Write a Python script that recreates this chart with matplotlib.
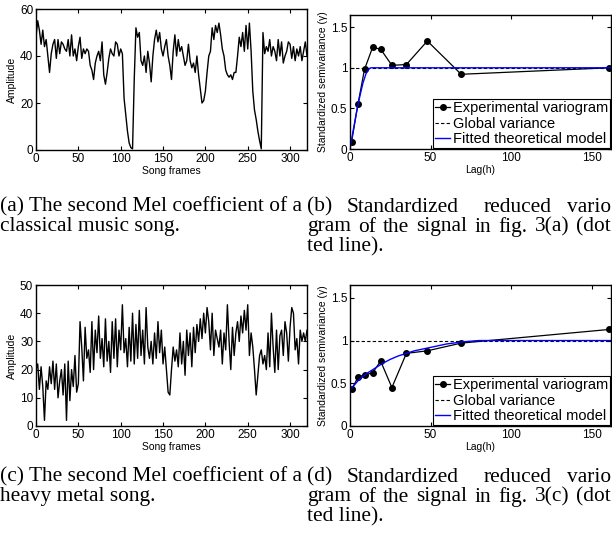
import numpy as np
import matplotlib.pyplot as plt

# Datos (un valor cada 2 frames)
paso_frames = 2
mel_clasica = [48, 55, 51, 45, 51, 44, 47, 40, 33, 41,
               45, 47, 39, 47, 41, 46, 45, 43, 42, 47,
               40, 49, 40, 43, 38, 44, 48, 39, 43, 41,
               43, 42, 36, 34, 30, 37, 40, 42, 38, 46,
               32, 28, 33, 39, 43, 41, 40, 46, 45, 40,
               43, 41, 22, 15, 8, 3, 1, 0.5, 30, 52,
               48, 50, 38, 36, 40, 33, 42, 37, 29, 40,
               47, 51, 46, 50, 43, 40, 44, 47, 40, 36,
               30, 42, 49, 40, 47, 42, 44, 40, 36, 38,
               45, 38, 35, 37, 33, 40, 32, 26, 20, 21,
               25, 33, 40, 42, 52, 47, 53, 50, 54, 49,
               43, 40, 34, 32, 31, 32, 30, 33, 33, 40,
               48, 44, 50, 42, 53, 43, 54, 42, 25, 17,
               13, 8, 4, 0.5, 50, 41, 44, 42, 47, 40,
               44, 42, 38, 47, 40, 46, 37, 40, 42, 46,
               45, 39, 44, 38, 43, 40, 44, 38, 42, 46,
               40]

mel_metal = [20, 22, 13, 21, 14, 2, 16, 13, 21, 15,
             23, 13, 22, 10, 16, 20, 11, 22, 2, 23,
             9, 20, 14, 25, 12, 15, 37, 28, 16, 35,
             24, 27, 19, 37, 20, 34, 26, 39, 24, 31,
             21, 38, 23, 30, 19, 37, 24, 38, 21, 34,
             27, 43, 26, 31, 21, 35, 23, 40, 22, 36,
             24, 41, 25, 34, 22, 42, 28, 24, 30, 22,
             33, 24, 37, 26, 34, 22, 28, 20, 12, 11,
             20, 28, 23, 27, 21, 33, 22, 30, 18, 34,
             25, 33, 21, 35, 26, 36, 30, 38, 31, 40,
             33, 42, 37, 27, 40, 25, 34, 31, 28, 34,
             22, 33, 27, 43, 30, 20, 35, 25, 33, 37,
             30, 39, 33, 41, 34, 43, 25, 33, 28, 20,
             11, 18, 25, 27, 22, 25, 20, 33, 21, 40,
             28, 19, 34, 20, 32, 34, 25, 37, 33, 23,
             35, 42, 40, 27, 31, 22, 34, 30, 33, 30,
             34]

# Variogramas experimentales
lag = [1, 5, 9, 14, 19, 26, 35, 48, 69, 161]
vario_clasica = [0.09, 0.56, 0.98, 1.25, 1.23, 1.03, 1.04, 1.33, 0.92, 1.0]
vario_metal = [0.43, 0.57, 0.60, 0.62, 0.76, 0.45, 0.85, 0.88, 0.97, 1.13]

# Modelos teóricos ajustados
lag_modelo_clasica = [0, 2, 4, 6, 8, 10, 12, 13, 162]
modelo_clasica = [0.0, 0.23, 0.45, 0.64, 0.81, 0.93, 0.99, 1.0, 1.0]
lag_modelo_metal = [0, 5, 10, 15, 20, 25, 30, 35, 40, 50, 60, 70, 80, 162]
modelo_metal = [0.42, 0.53, 0.61, 0.67, 0.73, 0.78, 0.82, 0.85, 0.88, 0.92, 0.96, 0.985, 1.0, 1.0]

varianza_global = 1.0

plt.rcParams['font.family'] = ['Liberation Sans', 'DejaVu Sans']
plt.rcParams['xtick.direction'] = 'in'
plt.rcParams['ytick.direction'] = 'in'
plt.rcParams['xtick.top'] = True
plt.rcParams['ytick.right'] = True
plt.rcParams['xtick.major.size'] = 3
plt.rcParams['ytick.major.size'] = 3
plt.rcParams['xtick.major.pad'] = 2
plt.rcParams['ytick.major.pad'] = 2
plt.rcParams['axes.linewidth'] = 1.0

W, H = 612, 540
fig = plt.figure(figsize=(W / 100, H / 100), dpi=100)


def caja(izq, der, arriba, abajo):
    return [izq / W, 1 - abajo / H, (der - izq) / W, (abajo - arriba) / H]


def senal(ax, valores, ymax, yticks):
    x = np.arange(len(valores)) * paso_frames
    ax.plot(x, valores, color='black', linewidth=1.0)
    ax.set_xlim(0, 320)
    ax.set_ylim(0, ymax)
    ax.set_xticks([0, 50, 100, 150, 200, 250, 300])
    ax.set_yticks(yticks)
    ax.tick_params(labelsize=8.5)
    ax.set_xlabel('Song frames', fontsize=7.5, labelpad=1)
    ax.set_ylabel('Amplitude', fontsize=7.5, labelpad=2)


def variograma(ax, vario, lag_mod, modelo):
    ax.plot(lag, vario, color='black', marker='o', markersize=4, linewidth=0.9,
            label='Experimental variogram')
    ax.plot([0, 162], [varianza_global, varianza_global], color='black',
            linestyle='--', linewidth=0.8, dashes=(3, 2), label='Global variance')
    ax.plot(lag_mod, modelo, color='#0000ff', linewidth=1.0,
            label='Fitted theoretical model')
    ax.set_xlim(0, 162)
    ax.set_ylim(0, 1.65)
    ax.set_xticks([0, 50, 100, 150])
    ax.set_yticks([0, 0.5, 1, 1.5])
    ax.set_yticklabels(['0', '0.5', '1', '1.5'])
    ax.tick_params(labelsize=8.5)
    ax.set_xlabel('Lag(h)', fontsize=7.5, labelpad=1)
    ax.set_ylabel('Standardized semivariance (\u03b3)', fontsize=7.5, labelpad=2)
    leg = ax.legend(loc='lower right', fontsize=10.5, handlelength=1.0,
                    handletextpad=0.2, labelspacing=0.1, borderpad=0.15,
                    borderaxespad=0.05, fancybox=False, framealpha=1)
    leg.get_frame().set_edgecolor('black')
    leg.get_frame().set_linewidth(0.8)


ax_a = fig.add_axes(caja(36, 307, 9, 150))
senal(ax_a, mel_clasica, 60, [0, 20, 40, 60])

ax_b = fig.add_axes(caja(350, 611, 15, 149))
variograma(ax_b, vario_clasica, lag_modelo_clasica, modelo_clasica)

ax_c = fig.add_axes(caja(36, 307, 285, 426))
senal(ax_c, mel_metal, 50, [0, 10, 20, 30, 40, 50])

ax_d = fig.add_axes(caja(350, 611, 285, 426))
variograma(ax_d, vario_metal, lag_modelo_metal, modelo_metal)

# Leyendas de las subfiguras (texto serif, justificado a mano)
serif = dict(family=['Liberation Serif', 'DejaVu Serif'], fontsize=15.4, va='center')
renderer = fig.canvas.get_renderer()


def justificar(palabras, x0, x1, y):
    # mide cada palabra y reparte el espacio sobrante por igual
    textos = [fig.text(0, y, p, ha='left', **serif) for p in palabras]
    anchos = [t.get_window_extent(renderer).width for t in textos]
    hueco = (x1 - x0 - sum(anchos)) / (len(palabras) - 1)
    x = x0
    for t, a in zip(textos, anchos):
        t.set_x(x / W)
        x += a + hueco


def pie(y_px, linea1, linea2, etiqueta, ref):
    y1 = 1 - y_px / H
    y2 = 1 - (y_px + 20) / H
    y3 = 1 - (y_px + 40) / H
    fig.text(0, y1, linea1, ha='left', **serif)
    fig.text(0, y2, linea2, ha='left', **serif)
    fig.text(307 / W, y1, etiqueta, ha='left', **serif)
    fig.text(347 / W, y1, 'Standardized', ha='left', **serif)
    fig.text(484 / W, y1, 'reduced', ha='left', **serif)
    fig.text(611 / W, y1, 'vario', ha='right', **serif)
    justificar(['gram', 'of', 'the', 'signal', 'in', 'fig.', '3' + ref, '(dot'],
               307, 611, y2)
    fig.text(307 / W, y3, 'ted line).', ha='left', **serif)


pie(207, '(a) The second Mel coefficient of a', 'classical music song.', '(b)', '(a)')
pie(477, '(c) The second Mel coefficient of a', 'heavy metal song.', '(d)', '(c)')

plt.savefig('out.png', dpi=100)
